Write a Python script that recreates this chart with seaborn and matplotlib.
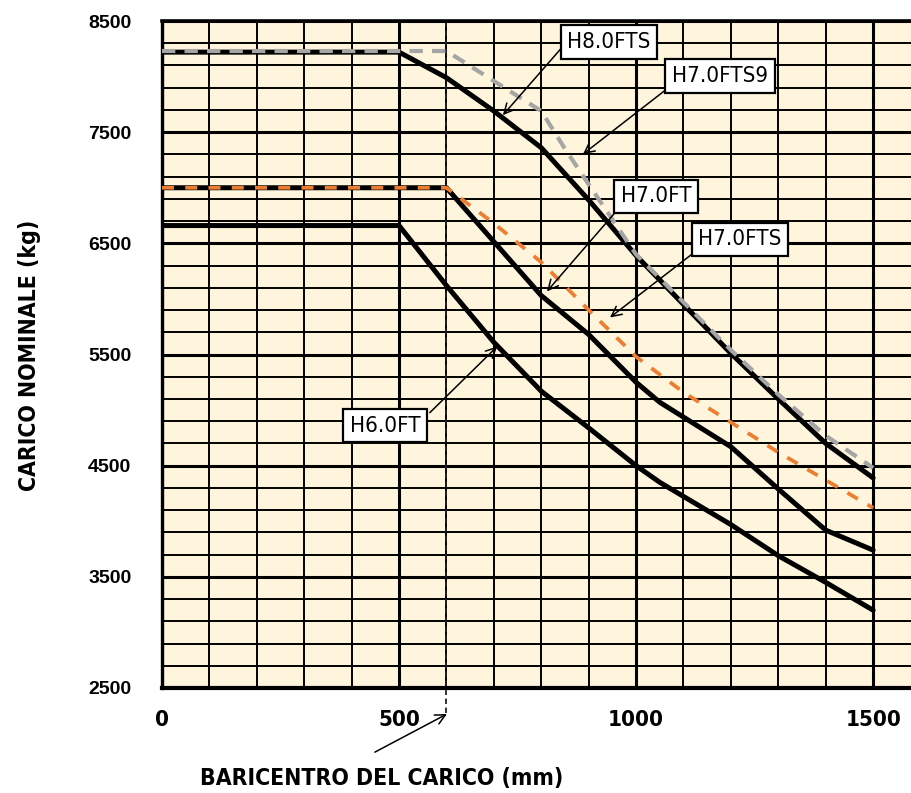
import matplotlib
matplotlib.use("Agg")
import matplotlib.pyplot as plt
import seaborn as sns
import numpy as np
import pandas as pd
from matplotlib.ticker import FixedLocator
from matplotlib import font_manager as fm

# ---------------- data ----------------
x_h8 = [0, 500, 600, 700, 800, 900, 1000, 1100, 1200, 1300, 1400, 1500]
y_h8 = [8220, 8220, 7990, 7690, 7360, 6890, 6390, 5950, 5510, 5100, 4700, 4390]

x_h7s9 = [0, 600, 700, 800, 850, 900, 1000, 1100, 1200, 1300, 1400, 1500]
y_h7s9 = [8230, 8230, 7960, 7690, 7350, 7030, 6400, 5970, 5540, 5140, 4770, 4480]

x_h7 = [0, 600, 800, 900, 1000, 1050, 1200, 1300, 1400, 1500]
y_h7 = [7000, 7000, 6030, 5680, 5250, 5070, 4670, 4290, 3920, 3740]

x_h7s = [0, 600, 700, 800, 900, 1000, 1100, 1200, 1300, 1400, 1500]
y_h7s = [7000, 7000, 6680, 6330, 5900, 5480, 5160, 4890, 4620, 4370, 4120]

x_h6 = [0, 500, 600, 700, 800, 900, 1000, 1050, 1200, 1300, 1400, 1500]
y_h6 = [6660, 6660, 6120, 5610, 5170, 4840, 4500, 4350, 3970, 3690, 3450, 3200]

x_ticks = [0, 500, 1000, 1500]
y_ticks = [2500, 3500, 4500, 5500, 6500, 7500, 8500]
baricentro = 600

labels = ["H8.0FTS", "H7.0FTS9", "H7.0FT", "H7.0FTS", "H6.0FT"]
label_pos = [(943, 8311), (1177, 8005), (1042, 6923), (1219, 6536), (470, 4860)]
arrow_tail = [(850, 8293), (1078, 7932), (958, 6788), (1131, 6446), (565, 4977)]
arrow_head = [(719, 7653), (888, 7302), (812, 6068), (945, 5833), (707, 5572)]

xlabel = "BARICENTRO DEL CARICO (mm)"
ylabel = "CARICO NOMINALE (kg)"

# ---------------- style ----------------
sns.set_theme(style="white")
names = {f.name for f in fm.fontManager.ttflist}
if "Liberation Sans Narrow" in names:
    narrow = ['Liberation Sans Narrow', 'DejaVu Sans']
    nstretch = 'normal'
else:
    narrow = ['DejaVu Sans']
    nstretch = 'condensed'
wide = ['Liberation Sans', 'DejaVu Sans']
plt.rcParams['font.family'] = narrow
plt.rcParams['text.color'] = 'black'
plt.rcParams['xtick.color'] = 'black'
plt.rcParams['ytick.color'] = 'black'

fig = plt.figure(figsize=(9.12, 7.93), dpi=100)
fig.patch.set_facecolor("white")
ax = fig.add_axes([162/912, 1-688/793, 1-162/912, (688-21)/793])
ax.set_facecolor("#FEF5DC")

ax.set_xlim(0, 1582)
ax.set_ylim(2500, 8500)

ax.xaxis.set_major_locator(FixedLocator(x_ticks))
ax.yaxis.set_major_locator(FixedLocator(y_ticks))
ax.xaxis.set_minor_locator(FixedLocator([v for v in range(0, 1600, 100) if v not in x_ticks]))
ax.yaxis.set_minor_locator(FixedLocator([v for v in range(2500, 8600, 200) if v not in y_ticks]))

ax.grid(which="major", color="black", lw=2.2)
ax.grid(which="minor", color="black", lw=1.4)
ax.set_axisbelow(True)

# ---------------- lines ----------------
sns.lineplot(x=x_h8, y=y_h8, ax=ax, color="black", lw=3.6, sort=False, estimator=None, zorder=3)
sns.lineplot(x=x_h7, y=y_h7, ax=ax, color="black", lw=3.6, sort=False, estimator=None, zorder=3)
sns.lineplot(x=x_h6, y=y_h6, ax=ax, color="black", lw=3.6, sort=False, estimator=None, zorder=3)
sns.lineplot(x=x_h7s9, y=y_h7s9, ax=ax, color="#A5A5A5", lw=3.0, sort=False, estimator=None, zorder=4)
ax.lines[-1].set_dashes((3.2, 2.2))
sns.lineplot(x=x_h7s, y=y_h7s, ax=ax, color="#ED7D31", lw=2.7, sort=False, estimator=None, zorder=4)
ax.lines[-1].set_dashes((3.2, 3.0))

# baricentro reference line
ax.plot([baricentro, baricentro], [2275, 8500], color="#222222", lw=1.3,
        ls=(0, (3, 2)), clip_on=False, zorder=2.5)

# ---------------- annotations ----------------
for lab, pos, tail, head in zip(labels, label_pos, arrow_tail, arrow_head):
    ax.annotate("", xy=head, xytext=tail,
                arrowprops=dict(arrowstyle="->", color="black", lw=1.1,
                                mutation_scale=18, shrinkA=0, shrinkB=0),
                zorder=5)
    ax.text(pos[0], pos[1], lab, ha="center", va="center", fontsize=16,
            family=narrow, fontstretch=nstretch, color="black", zorder=6,
            bbox=dict(boxstyle="square,pad=0.3", fc="white", ec="black", lw=1.6))

ax.annotate("", xy=(601, 2266), xytext=(449, 1923), xycoords="data",
            arrowprops=dict(arrowstyle="->", color="black", lw=1.1,
                            mutation_scale=18, shrinkA=0, shrinkB=0),
            annotation_clip=False)

# ---------------- axes styling ----------------
for s in ["top", "left", "bottom"]:
    ax.spines[s].set_visible(True)
    ax.spines[s].set_color("black")
ax.spines["right"].set_visible(False)
ax.spines["top"].set_linewidth(2.6)
ax.spines["left"].set_linewidth(2.4)
ax.spines["bottom"].set_linewidth(3.0)

ax.tick_params(which="major", axis="both", direction="out", length=6, width=2.4, color="black")
ax.tick_params(which="minor", length=0)
ax.tick_params(axis="y", pad=16)
ax.tick_params(axis="x", pad=10)

ax.set_xticklabels([str(v) for v in x_ticks], fontsize=16, fontweight="bold",
                   family=narrow, fontstretch=nstretch)
ax.set_yticklabels([str(v) for v in y_ticks], fontsize=14, fontweight="bold", family=wide)

fig.text(382/912, 1-778/793, xlabel, ha="center", va="center", fontsize=16.5,
         fontweight="bold", family=narrow, fontstretch=nstretch)
fig.text(30/912, 1-355/793, ylabel, ha="center", va="center", fontsize=16.5,
         fontweight="bold", family=narrow, fontstretch=nstretch, rotation=90)

fig.savefig("out.png", dpi=100, facecolor="white")
